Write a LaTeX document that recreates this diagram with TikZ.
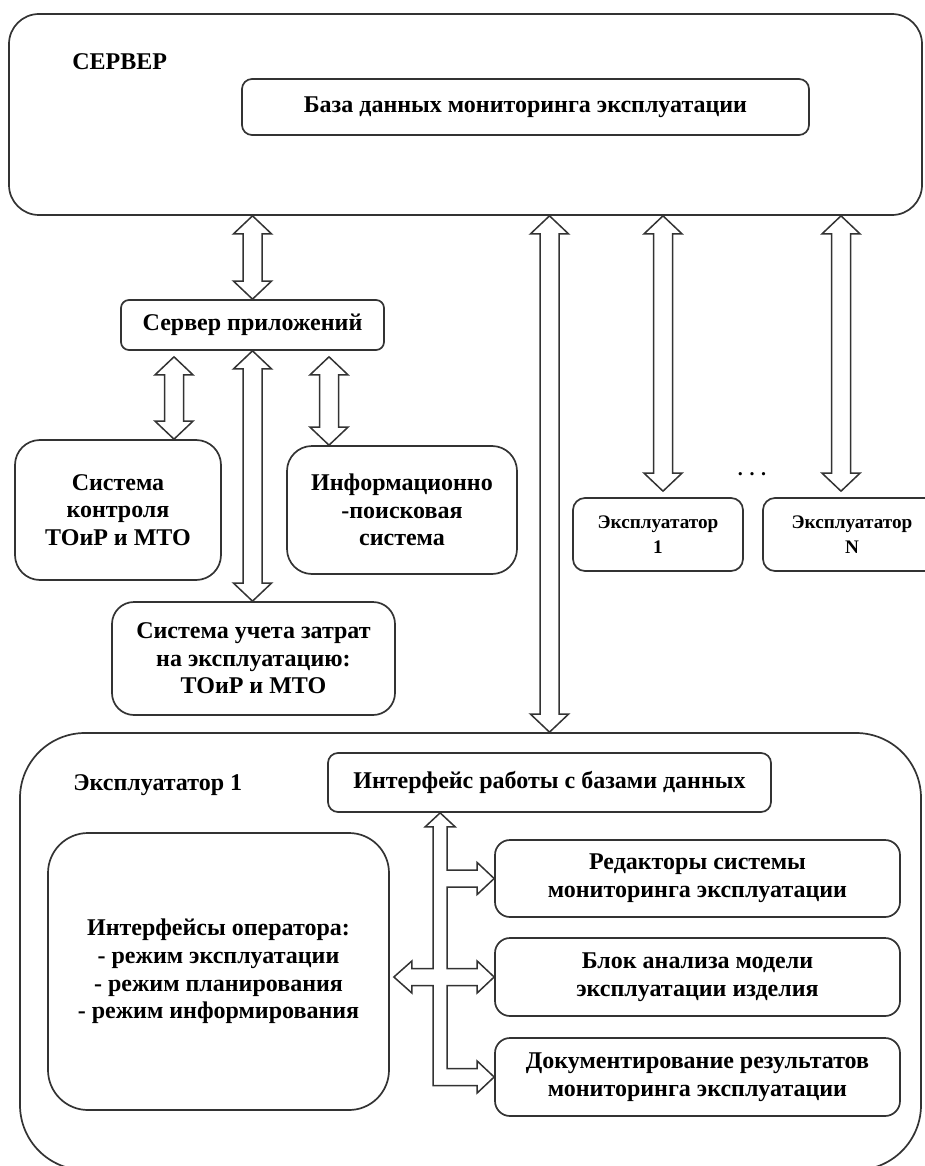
\documentclass[tikz,border=0pt]{standalone}
\usepackage{fontspec}
\setmainfont{Liberation Serif}
\usepackage{tikz}
\usetikzlibrary{calc}

\newcommand{\dblarrow}[2]{\draw[hollow] (#1) -- ++(19,18) -- ++(-9.5,0) -- ($(#2)+(9.5,-18)$) -- ++(9.5,0) -- (#2) -- ++(-19,-18) -- ++(9.5,0) -- ($(#1)+(-9.5,18)$) -- ++(-9.5,0) -- cycle;}

\begin{document}
\begin{tikzpicture}[x=0.5pt,y=-0.5pt]
\tikzset{box/.style = {shape=rectangle,draw=black!80,line width=0.85pt,rounded corners=5pt,inner sep=0pt,align=center,font=\fontsize{12}{13.8}\selectfont\bfseries}}
\tikzset{small/.style = {box,rounded corners=6pt,font=\fontsize{9.6}{12.5}\selectfont\bfseries}}
\tikzset{hollow/.style = {draw=black!80,line width=0.75pt,fill=white}}
\tikzset{title/.style = {anchor=west,inner sep=0pt,font=\fontsize{12}{13.8}\selectfont\bfseries}}
\useasboundingbox (0,0) rectangle (925,1166);
\clip (0,0) rectangle (925,1166);
% server
\node[box,rounded corners=15pt,minimum width=456.5pt,minimum height=100.5pt] (srv) at (465.5,114.5) {};
\node[title] (srvlbl) at (72,62) {СЕРВЕР};
\node[box,minimum width=283.5pt,minimum height=28pt] (db) at (525.5,107) {База данных мониторинга эксплуатации};
% middle level
\node[box,rounded corners=4pt,minimum width=131.5pt,minimum height=25pt] (app) at (252.5,325) {Сервер приложений};
\node[box,rounded corners=12.5pt,minimum width=103pt,minimum height=70pt] (ctrl) at (118,510) {Система\\контроля\\ТОиР и МТО};
\node[box,rounded corners=12.5pt,minimum width=115pt,minimum height=64pt] (info) at (402,510) {Информационно\\-поисковая\\система};
\node[box,rounded corners=11pt,minimum width=141.5pt,minimum height=56.5pt] (cost) at (253.5,658.5) {Система учета затрат\\на эксплуатацию:\\ТОиР и МТО};
\node[small,minimum width=85pt,minimum height=36.5pt] (exa) at (658,534.5) {Эксплуататор\\1};
\node[small,minimum width=89pt,minimum height=36.5pt] (exn) at (852,534.5) {Эксплуататор\\N};
\node[inner sep=0pt,font=\bfseries] (dots) at (752,474) {.\,\,.\,\,.};
% operator
\node[box,rounded corners=32.5pt,minimum width=450.5pt,minimum height=218.5pt] (ex1) at (470.5,951.5) {};
\node[title] (ex1lbl) at (73,785) {Эксплуататор 1};
\node[box,minimum width=221.5pt,minimum height=29.5pt] (dbif) at (549.5,782.5) {Интерфейс работы с базами данных};
\node[box,rounded corners=20pt,minimum width=170.5pt,minimum height=138.5pt] (oper) at (218.5,971.5) {Интерфейсы оператора:\\- режим эксплуатации\\- режим планирования\\- режим информирования};
\node[box,rounded corners=7.5pt,minimum width=202.5pt,minimum height=38.5pt] (edit) at (697.5,878.5) {Редакторы системы\\мониторинга эксплуатации};
\node[box,rounded corners=7.5pt,minimum width=202.5pt,minimum height=39pt] (anal) at (697.5,977) {Блок анализа модели\\эксплуатации изделия};
\node[box,rounded corners=7.5pt,minimum width=202.5pt,minimum height=39pt] (docs) at (697.5,1077) {Документирование результатов\\мониторинга эксплуатации};
% arrow ends
\coordinate (c1) at ($(app.south)+(-78.5,6)$);
\coordinate (c2) at (c1 |- ctrl.north);
\coordinate (i1) at ($(app.south)+(76.5,6)$);
\coordinate (i2) at (i1 |- info.north);
\coordinate (e1) at ($(exa.north |- srv.south)+(5,0)$);
\coordinate (e2) at ($(exa.north)+(5,-6)$);
\coordinate (n1) at ($(exn.north |- srv.south)+(-11,0)$);
\coordinate (n2) at ($(exn.north)+(-11,-6)$);
\coordinate (s1) at (app.north |- srv.south);
\coordinate (l1) at (dbif.north |- srv.south);
\coordinate (l2) at (dbif.north |- ex1.north);
\coordinate (k1) at (app.south |- cost.north);
\dblarrow{s1}{app.north}
\dblarrow{l1}{l2}
\dblarrow{e1}{e2}
\dblarrow{n1}{n2}
\dblarrow{c1}{c2}
\dblarrow{app.south}{k1}
\dblarrow{i1}{i2}
% bus inside operator block
\coordinate (bt) at ($(dbif.south west)+(113,0)$);
\coordinate (ot) at ($(oper.east |- anal.west)+(4,0)$);
\draw[hollow] (bt) -- ++(15,14) -- ++(-8,0)
  -- ($(bt |- edit.west)+(7,-8.5)$) -- ($(edit.west)+(-17,-8.5)$) -- ++(0,-7.5) -- (edit.west) -- ++(-17,16) -- ++(0,-7.5)
  -- ($(bt |- edit.west)+(7,8.5)$)
  -- ($(bt |- anal.west)+(7,-8.5)$) -- ($(anal.west)+(-17,-8.5)$) -- ++(0,-7.5) -- (anal.west) -- ++(-17,16) -- ++(0,-7.5)
  -- ($(bt |- anal.west)+(7,8.5)$)
  -- ($(bt |- docs.west)+(7,-8.5)$) -- ($(docs.west)+(-17,-8.5)$) -- ++(0,-7.5) -- (docs.west) -- ++(-17,16) -- ++(0,-7.5)
  -- ($(bt |- docs.west)+(-7,8.5)$)
  -- ($(bt |- anal.west)+(-7,8.5)$) -- ($(ot)+(18,8.5)$) -- ++(0,7.5) -- (ot) -- ++(18,-16) -- ++(0,7.5)
  -- ($(bt |- anal.west)+(-7,-8.5)$) -- ($(bt)+(-7,14)$) -- ++(-8,0) -- cycle;
\end{tikzpicture}
\end{document}
